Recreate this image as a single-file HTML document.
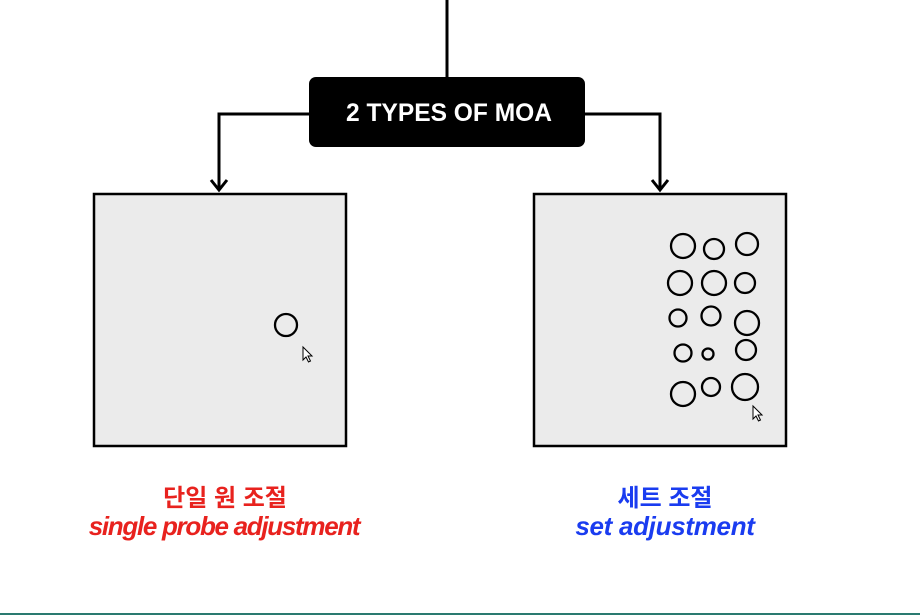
<!DOCTYPE html>
<html><head><meta charset="utf-8"><style>
body{margin:0;background:#fff;width:920px;height:616px;overflow:hidden;position:relative;font-family:"Liberation Sans","Noto Sans CJK KR",sans-serif}
.t{position:absolute;text-align:center;font-weight:bold;white-space:nowrap}
</style></head><body>
<svg width="920" height="616" style="position:absolute;left:0;top:0">
<g stroke="#000" stroke-width="3" fill="none">
<line x1="447" y1="0" x2="447" y2="78"/>
<polyline points="310,114 219,114 219,190"/>
<polyline points="585,114 660,114 660,190"/>
<polyline points="211,180 219,190 227,180"/>
<polyline points="652,180 660,190 668,180"/>
</g>
<rect x="309" y="77" width="276" height="70" rx="7" fill="#000"/>
<text x="449" y="121" fill="#fff" font-family="Liberation Sans" font-weight="bold" font-size="25" text-anchor="middle" textLength="206" lengthAdjust="spacingAndGlyphs">2 TYPES OF MOA</text>
<rect x="94" y="194" width="252" height="252" fill="#ebebeb" stroke="#000" stroke-width="2.5"/>
<rect x="534" y="194" width="252" height="252" fill="#ebebeb" stroke="#000" stroke-width="2.5"/>
<g fill="none" stroke="#000" stroke-width="2.3">
<circle cx="286" cy="325" r="11"/>
<circle cx="683" cy="246" r="12"/><circle cx="714" cy="249" r="10"/><circle cx="747" cy="244" r="11"/>
<circle cx="680" cy="283" r="12"/><circle cx="714" cy="283" r="12"/><circle cx="745" cy="283" r="10"/>
<circle cx="678" cy="318" r="8.5"/><circle cx="711" cy="316" r="9.5"/><circle cx="747" cy="323" r="12"/>
<circle cx="683" cy="353" r="8.5"/><circle cx="708" cy="354" r="5.5"/><circle cx="746" cy="350" r="10"/>
<circle cx="683" cy="394" r="12"/><circle cx="711" cy="387" r="9"/><circle cx="745" cy="387" r="13"/>
</g>
<g fill="#fff" stroke="#000" stroke-width="1">
<path d="M303,347 L303,360 L306,357 L308.5,362 L310.5,361 L308,356 L312,356 Z"/>
<path d="M753,406 L753,419 L756,416 L758.5,421 L760.5,420 L758,415 L762,415 Z"/>
</g>
<line x1="0" y1="614" x2="920" y2="614" stroke="#2a7a70" stroke-width="2"/>
</svg>
<div class="t" style="left:125px;width:200px;top:478px;font-size:24px;color:#e8221e">단일 원 조절</div>
<div class="t" style="left:64px;width:320px;top:511px;font-size:26px;color:#e8221e;font-style:italic;letter-spacing:-1.3px">single probe adjustment</div>
<div class="t" style="left:565px;width:200px;top:478px;font-size:24px;color:#1a3cf0">세트 조절</div>
<div class="t" style="left:505px;width:320px;top:511px;font-size:26px;color:#1a3cf0;font-style:italic;letter-spacing:-0.3px">set adjustment</div>
</body></html>
